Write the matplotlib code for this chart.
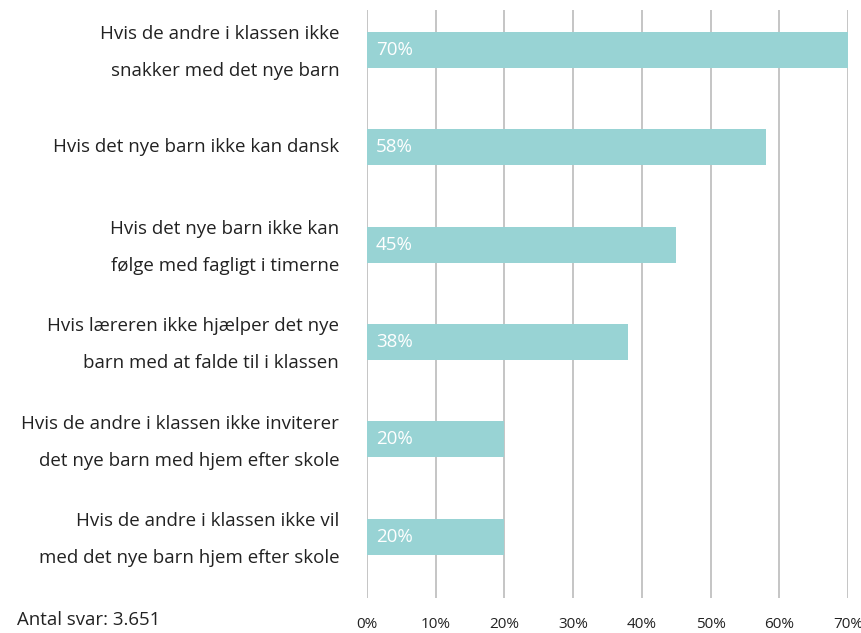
import matplotlib
matplotlib.use('Agg')
import matplotlib.pyplot as plt

# data
labels = ['Hvis de andre i klassen ikke\nsnakker med det nye barn',
          'Hvis det nye barn ikke kan dansk',
          'Hvis det nye barn ikke kan\nfølge med fagligt i timerne',
          'Hvis læreren ikke hjælper det nye\nbarn med at falde til i klassen',
          'Hvis de andre i klassen ikke inviterer\ndet nye barn med hjem efter skole',
          'Hvis de andre i klassen ikke vil\nmed det nye barn hjem efter skole']
values = [70, 58, 45, 38, 20, 20]
x_ticks = [0, 10, 20, 30, 40, 50, 60, 70]
note = 'Antal svar: 3.651'

plt.rcParams['font.family'] = ['Open Sans', 'DejaVu Sans']
text_color = '#222222'
bar_color = '#98d3d4'

fig = plt.figure(figsize=(8.62, 6.33), dpi=100)
ax = fig.add_axes([367 / 862, 1 - 598 / 633, 481 / 862, 588 / 633])

pos = list(range(len(values)))
ax.barh(pos, values, height=0.37, color=bar_color, zorder=3)
for p, v in zip(pos, values):
    ax.text(1.3, p, '%d%%' % v, color='white', fontsize=13.5, va='center', ha='left', zorder=4)

# kategori-tekster, hver linje placeres for sig saa de centreres om bjaelken
line_gap = 26.6  # punkter mellem linjerne
for p, lab in zip(pos, labels):
    lines = lab.split('\n')
    n = len(lines)
    for i, line in enumerate(lines):
        dy = ((n - 1) / 2 - i) * line_gap - 2 * (n - 1)
        ax.annotate(line, xy=(0, p), xytext=(-20, dy), textcoords='offset points',
                    ha='right', va='center', fontsize=13.5, color=text_color,
                    annotation_clip=False)

ax.set_xlim(0, 70)
ax.set_ylim(5.63, -0.41)
ax.set_xticks(x_ticks)
ax.set_xticklabels(['%d%%' % t for t in x_ticks], fontsize=11, color=text_color)
ax.set_yticks([])
ax.tick_params(axis='both', length=0)
ax.tick_params(axis='x', pad=14)
ax.grid(axis='x', color='#bbbbbb', linewidth=1.2, zorder=1)
ax.set_axisbelow(True)
for s in ax.spines.values():
    s.set_visible(False)

fig.text(17 / 862, 1 - 620 / 633, note, fontsize=13.4, color=text_color, va='center', ha='left')

fig.savefig('out.png', dpi=100)
